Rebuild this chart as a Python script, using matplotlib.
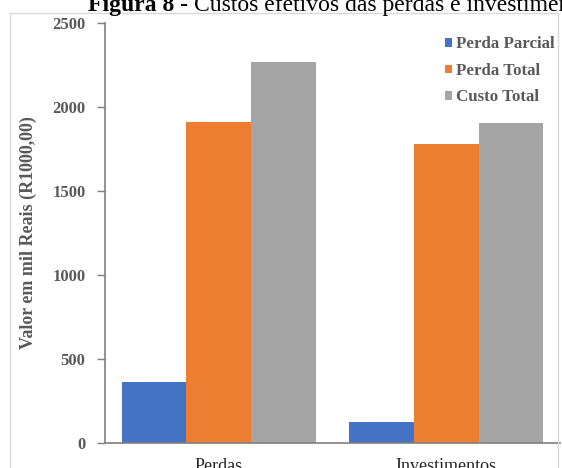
import matplotlib
matplotlib.use("Agg")
import matplotlib.pyplot as plt
import numpy as np
from matplotlib.patches import Rectangle

categories = ["Perdas", "Investimentos"]
series_names = ["Perda Parcial", "Perda Total", "Custo Total"]
perda_parcial = [361, 127]
perda_total = [1909, 1778]
custo_total = [2270, 1903]
y_ticks = [0, 500, 1000, 1500, 2000, 2500]

colors = ["#4472C4", "#ED7D31", "#A5A5A5"]
text_grey = "#595959"
serif = ["Liberation Serif", "DejaVu Serif"]

fig = plt.figure(figsize=(5.62, 4.68), dpi=100)
ax = fig.add_axes([105 / 562, 1 - 443 / 468, 455 / 562, 420 / 468])

x = np.arange(len(categories))
width = 0.284
values = [perda_parcial, perda_total, custo_total]
for i, (name, vals, col) in enumerate(zip(series_names, values, colors)):
    ax.bar(x + (i - 1) * width, vals, width, color=col, label=name, zorder=2)

ax.set_xlim(-0.5, 1.5)
ax.set_ylim(0, 2500)
ax.set_yticks(y_ticks)
ax.set_yticklabels([str(v) for v in y_ticks], fontfamily=serif, fontweight="bold",
                   fontsize=12, color=text_grey)
ax.set_xticks(x)
ax.set_xticklabels(categories, fontfamily=serif, fontsize=13, color="#262626")
ax.tick_params(axis="x", length=0, pad=11)
ax.tick_params(axis="y", length=6, width=1, color="#7f7f7f", pad=8)

for side in ["top", "right"]:
    ax.spines[side].set_visible(False)
for side in ["left", "bottom"]:
    ax.spines[side].set_color("#7f7f7f")
    ax.spines[side].set_linewidth(1.2)

ax.set_ylabel("Valor em mil Reais (R1000,00)", fontfamily=serif, fontweight="bold",
              fontsize=13, color=text_grey, labelpad=11)

leg = ax.legend(loc="upper right", bbox_to_anchor=(0.993, 0.972), frameon=False,
                handlelength=0.42, handleheight=0.42, handletextpad=0.25,
                labelspacing=0.62, borderaxespad=0.0, borderpad=0.1,
                prop={"family": serif, "weight": "bold", "size": 12.2})
for t in leg.get_texts():
    t.set_color(text_grey)

# light frame around the chart area
fig.patches.append(Rectangle((10 / 562, -0.01), 548 / 562, 1 - 13 / 468 + 0.01,
                             transform=fig.transFigure, fill=False,
                             edgecolor="#d9d9d9", linewidth=1.0))

# caption above the chart, bold label then regular text
fig.canvas.draw()
renderer = fig.canvas.get_renderer()
t1 = fig.text(88 / 562, 1 - 11 / 468, "Figura 8 - ", fontfamily=serif,
              fontweight="bold", fontsize=17, color="black", va="baseline")
bb = t1.get_window_extent(renderer=renderer)
fig.text(bb.x1 / fig.bbox.width, 1 - 11 / 468,
         "Custos efetivos das perdas e investimentos", fontfamily=serif,
         fontsize=17, color="black", va="baseline")

fig.savefig("out.png", dpi=100)
